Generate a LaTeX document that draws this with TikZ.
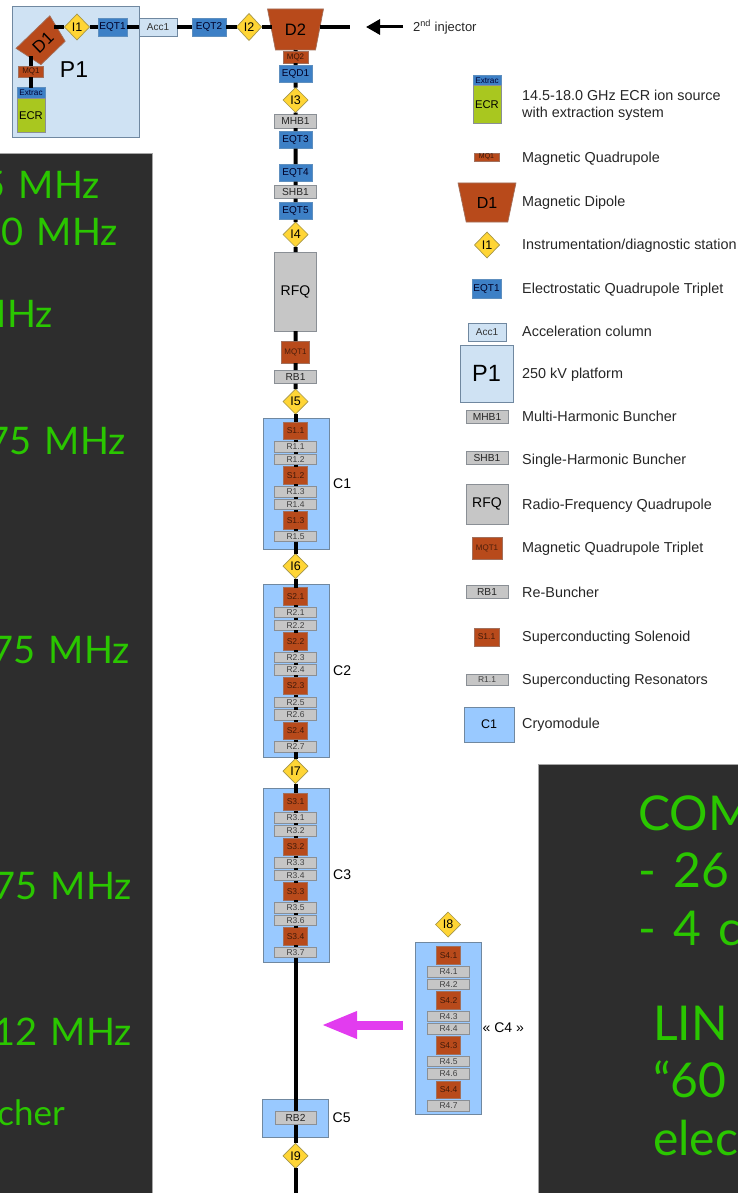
\documentclass[tikz,border=0pt]{standalone}
\usepackage{fontspec}
\setmainfont{Liberation Sans}
\newfontfamily\handfont[WordSpace=1.4]{Lato}
\usetikzlibrary{arrows.meta,positioning,shapes.geometric}
\usepackage{xcolor}
\definecolor{rust}{HTML}{B84A1B}
\definecolor{rustedge}{HTML}{A2705C}
\definecolor{eqblue}{HTML}{3D80C6}
\definecolor{eqedge}{HTML}{5E8FBF}
\definecolor{cavgrey}{HTML}{C6C6C6}
\definecolor{cavedge}{HTML}{8A8F95}
\definecolor{gold}{HTML}{FFD535}
\definecolor{goldedge}{HTML}{A5964A}
\definecolor{cryoblue}{HTML}{99C9FF}
\definecolor{cryoedge}{HTML}{7088A0}
\definecolor{paleblue}{HTML}{CFE2F3}
\definecolor{ecrgreen}{HTML}{A9C71F}
\definecolor{panelgrey}{HTML}{2D2D2D}
\definecolor{handgreen}{HTML}{2AC600}
\definecolor{arrowpink}{HTML}{E23CEF}
\newcommand{\fsize}[1]{\fontsize{#1}{#1}\selectfont}

\begin{document}
\begin{tikzpicture}[
  x=1pt,y=-1pt,
  node distance=2.1pt,
  element/.style={
    draw,
    line width=0.7pt,
    inner sep=0pt,
    outer sep=0pt,
    align=center
  },
  quadmag/.style={element,fill=rust,draw=rustedge,text=black!70!rust,minimum width=25pt,minimum height=11pt,font=\fsize{8}},
  dipole/.style={
    element,
    trapezium,
    trapezium stretches=true,
    trapezium angle=70,
    shape border rotate=180,
    fill=rust,
    draw=rustedge
  },
  station/.style={element,diamond,fill=gold,draw=goldedge,minimum width=25pt,minimum height=25pt,font=\fsize{12.5}},
  eqt/.style={element,fill=eqblue,draw=eqedge,text=black!85!blue,minimum width=33pt,minimum height=17.5pt,font=\fsize{10}},
  column/.style={element,fill=paleblue,draw=cryoedge,text=black!80,minimum width=38pt,minimum height=18pt,font=\fsize{10}},
  platform/.style={element,fill=paleblue,draw=cryoedge},
  buncher/.style={element,fill=cavgrey,draw=cavedge,text=black!85,minimum width=42pt,minimum height=13.5pt,font=\fsize{10.2}},
  rfq/.style={element,fill=cavgrey,draw=cavedge,minimum width=42pt,font=\fsize{14}},
  triplet/.style={element,fill=rust,draw=rustedge,text=black!60!rust,minimum width=28pt,minimum height=22pt,font=\fsize{8}},
  solenoid/.style={element,fill=rust,draw=rustedge,text=black!65!rust,minimum width=24pt,minimum height=17.5pt,font=\fsize{8.5}},
  cavity/.style={element,fill=cavgrey,draw=cavedge,text=black!75,minimum width=42pt,minimum height=10.5pt,font=\fsize{8.5}},
  cryomodule/.style={element,fill=cryoblue,draw=cryoedge,minimum width=66pt},
  extractor/.style={element,fill=eqblue,draw=eqedge,text=black!80!blue,minimum width=28pt,minimum height=10.5pt,font=\fsize{8.2}},
  source/.style={element,fill=ecrgreen,draw=cavedge,minimum width=28pt,font=\fsize{11.2}},
  modname/.style={inner sep=0pt,font=\fsize{14}},
  legendtext/.style={anchor=west,inner sep=0pt,align=left,font=\fontsize{14.4}{17}\selectfont,text=black!85},
  darkpanel/.style={draw=black!35,line width=0.8pt,fill=panelgrey,anchor=north west,inner sep=0pt},
  handnote/.style={inner sep=0pt,text=handgreen,font=\handfont\fsize{38}},
  bignote/.style={handnote,font=\handfont\fsize{48}},
  beam/.style={line width=4pt,black},
  feed/.style={line width=3pt,black,-{Triangle[length=14pt,width=15pt]}},
  transfer/.style={line width=9pt,arrowpink,-{Triangle[length=36pt,width=25pt]}}
]
  \path[use as bounding box,clip] (0,0) rectangle (738,1193);

  % dark panels
  \node[darkpanel,minimum width=153pt,minimum height=1041pt] (leftpanel) at (-1,153) {};
  \node[darkpanel,minimum width=201pt,minimum height=430pt] (rightpanel) at (538,764) {};

  \node[handnote,anchor=base east] (noteA) at (100,198) {5 MHz};
  \node[handnote,anchor=base east] (noteB) at (118,245) {50 MHz};
  \node[handnote,anchor=base east] (noteC) at (53,327) {MHz};
  \node[handnote,anchor=base east] (noteD) at (126,454) {75 MHz};
  \node[handnote,anchor=base east] (noteE) at (130,663) {75 MHz};
  \node[handnote,anchor=base east] (noteF) at (132,899) {75 MHz};
  \node[handnote,anchor=base east] (noteG) at (132,1045) {12 MHz};
  \node[handnote,anchor=base east,font=\handfont\fsize{35}] (noteH) at (65,1125) {cher};

  \node[bignote,anchor=base west] (noteI) at (638,830) {COM};
  \node[bignote,anchor=base west] (noteJ) at (638,887) {- 26};
  \node[bignote,anchor=base west] (noteK) at (638,945) {- 4 c};
  \node[bignote,anchor=base west] (noteL) at (653,1040) {LIN};
  \node[bignote,anchor=base west] (noteM) at (653,1097) {“60};
  \node[bignote,anchor=base west] (noteN) at (653,1155) {elec};

  % platform and injection line
  \node[platform,minimum width=127pt,minimum height=131pt] (P1box) at (75.5,71.5) {};
  \node[inner sep=0pt,font=\fsize{23}] (P1) at (74,70) {P1};
  \node[extractor] (extrac) at (31,93) {Extrac};
  \node[source,minimum height=34pt,below=0pt of extrac] (ECR) {ECR};
  \node[quadmag] (MQ1) at (31,71.5) {MQ1};
  \node[dipole,rotate=44,minimum width=47pt,minimum height=29pt,font=\fsize{17}] (D1) at (43,42.5) {D1};
  \coordinate (D1in) at (31,56);
  \coordinate (D1out) at (54,27);
  \node[station,minimum height=26pt] (I1) at (77,27) {I1};
  \node[eqt,minimum width=29pt,minimum height=18pt] (EQT1) at (112.5,27) {EQT1};
  \node[column] (Acc1) at (158,27) {Acc1};
  \node[eqt,minimum width=34pt,minimum height=18pt] (EQT2) at (209,27) {EQT2};
  \node[station,minimum height=27pt] (I2) at (249,27) {I2};
  \node[dipole,minimum width=56pt,minimum height=41pt,font=\fsize{16.5}] (D2) at (295.5,29.5) {D2};
  \coordinate (injend) at (350,27);
  \coordinate (injstart) at (403,27);
  \coordinate (injtip) at (366,27);
  \node[anchor=west,inner sep=0pt,font=\fsize{13},text=black!85] (injector) at (413,27) {2\textsuperscript{nd} injector};

  % main line down to the RFQ
  \node[quadmag,minimum height=12pt,below=1pt of D2] (MQ2) {MQ2};
  \node[eqt,below=2pt of MQ2] (EQD1) {EQD1};
  \node[station,below=5pt of EQD1] (I3) {I3};
  \node[buncher,below=2pt of I3] (MHB1) {MHB1};
  \node[eqt,below=3pt of MHB1] (EQT3) {EQT3};
  \node[eqt,below=15.5pt of EQT3] (EQT4) {EQT4};
  \node[buncher,below=3.5pt of EQT4] (SHB1) {SHB1};
  \node[eqt,below=3.5pt of SHB1] (EQT5) {EQT5};
  \node[station,below=2.5pt of EQT5] (I4) {I4};
  \node[rfq,minimum height=79pt,below=5pt of I4] (RFQ) {RFQ};
  \node[triplet,below=10pt of RFQ] (MQT1) {MQT1};
  \node[buncher,below=7pt of MQT1] (RB1) {RB1};
  \node[station,below=5.5pt of RB1] (I5) {I5};

  % first cryomodule
  \node[cryomodule,minimum height=131pt] (C1box) at (296,483.5) {};
  \node[modname,right=4pt of C1box] (C1) {C1};
  \node[solenoid,below=8pt of I5] (S11) {S1.1};
  \node[cavity,below=of S11] (R11) {R1.1};
  \node[cavity,below=of R11] (R12) {R1.2};
  \node[solenoid,below=of R12] (S12) {S1.2};
  \node[cavity,below=of S12] (R13) {R1.3};
  \node[cavity,below=of R13] (R14) {R1.4};
  \node[solenoid,below=of R14] (S13) {S1.3};
  \node[cavity,below=of S13] (R15) {R1.5};
  \node[station,below=12pt of R15] (I6) {I6};

  % second cryomodule
  \node[cryomodule,minimum height=173pt] (C2box) at (296,670.5) {};
  \node[modname,right=4pt of C2box] (C2) {C2};
  \node[solenoid,below=9pt of I6] (S21) {S2.1};
  \node[cavity,below=of S21] (R21) {R2.1};
  \node[cavity,below=of R21] (R22) {R2.2};
  \node[solenoid,below=of R22] (S22) {S2.2};
  \node[cavity,below=of S22] (R23) {R2.3};
  \node[cavity,below=of R23] (R24) {R2.4};
  \node[solenoid,below=of R24] (S23) {S2.3};
  \node[cavity,below=of S23] (R25) {R2.5};
  \node[cavity,below=of R25] (R26) {R2.6};
  \node[solenoid,below=of R26] (S24) {S2.4};
  \node[cavity,below=of S24] (R27) {R2.7};
  \node[station,below=6.5pt of R27] (I7) {I7};

  % third cryomodule
  \node[cryomodule,minimum height=174pt] (C3box) at (296,875) {};
  \node[modname,right=4pt of C3box] (C3) {C3};
  \node[solenoid,below=9.5pt of I7] (S31) {S3.1};
  \node[cavity,below=of S31] (R31) {R3.1};
  \node[cavity,below=of R31] (R32) {R3.2};
  \node[solenoid,below=of R32] (S32) {S3.2};
  \node[cavity,below=of S32] (R33) {R3.3};
  \node[cavity,below=of R33] (R34) {R3.4};
  \node[solenoid,below=of R34] (S33) {S3.3};
  \node[cavity,below=of S33] (R35) {R3.5};
  \node[cavity,below=of R35] (R36) {R3.6};
  \node[solenoid,below=of R36] (S34) {S3.4};
  \node[cavity,below=of S34] (R37) {R3.7};

  % fourth cryomodule, off the line
  \node[station] (I8) at (448,924.5) {I8};
  \node[cryomodule,minimum height=172pt] (C4box) at (448,1028) {};
  \node[modname,right=1.5pt of C4box] (C4) {« C4 »};
  \node[solenoid] (S41) at (448.5,955.5) {S4.1};
  \node[cavity,below=of S41] (R41) {R4.1};
  \node[cavity,below=of R41] (R42) {R4.2};
  \node[solenoid,below=of R42] (S42) {S4.2};
  \node[cavity,below=of S42] (R43) {R4.3};
  \node[cavity,below=of R43] (R44) {R4.4};
  \node[solenoid,below=of R44] (S43) {S4.3};
  \node[cavity,below=of S43] (R45) {R4.5};
  \node[cavity,below=of R45] (R46) {R4.6};
  \node[solenoid,below=of R46] (S44) {S4.4};
  \node[cavity,below=of S44] (R47) {R4.7};
  \coordinate (C4out) at (403,1025);
  \coordinate (C4in) at (321,1025);

  % re-buncher module
  \node[cryomodule,minimum height=38pt] (C5box) at (295.5,1118) {};
  \node[modname,right=4pt of C5box] (C5) {C5};
  \node[buncher,minimum width=41pt] (RB2) at (295.5,1118) {RB2};
  \node[station,below=18.5pt of RB2] (I9) {I9};
  \coordinate (lineend) at (295.5,1194);

  % legend
  \node[extractor] (legextrac) at (487,80.5) {Extrac};
  \node[source,minimum height=38pt,below=0pt of legextrac] (legECR) {ECR};
  \node[legendtext] (txtECR) at (522,105.5) {14.5-18.0 GHz ECR ion source\\with extraction system};
  \node[quadmag,minimum height=8pt,font=\fsize{7}] (legMQ) at (486.5,157) {MQ1};
  \node[legendtext] (txtMQ) at (522,159) {Magnetic Quadrupole};
  \node[dipole,minimum width=58pt,minimum height=39pt,font=\fsize{16}] (legD) at (487,202.5) {D1};
  \node[legendtext] (txtD) at (522,203) {Magnetic Dipole};
  \node[station,minimum height=26pt] (legI) at (487,245) {I1};
  \node[legendtext] (txtI) at (522,246) {Instrumentation/diagnostic station};
  \node[eqt,minimum width=29pt,minimum height=19pt] (legEQT) at (486.5,288.5) {EQT1};
  \node[legendtext] (txtEQT) at (522,290) {Electrostatic Quadrupole Triplet};
  \node[column] (legAcc) at (487,332) {Acc1};
  \node[legendtext] (txtAcc) at (522,331.5) {Acceleration column};
  \node[platform,minimum width=53pt,minimum height=57pt,font=\fsize{23.5}] (legP) at (486.5,373.5) {P1};
  \node[legendtext] (txtP) at (522,375) {250 kV platform};
  \node[buncher] (legMHB) at (487,417) {MHB1};
  \node[legendtext] (txtMHB) at (522,416) {Multi-Harmonic Buncher};
  \node[buncher] (legSHB) at (487,458) {SHB1};
  \node[legendtext] (txtSHB) at (522,461) {Single-Harmonic Buncher};
  \node[rfq,minimum height=40pt] (legRFQ) at (487,504) {RFQ};
  \node[legendtext] (txtRFQ) at (522,506) {Radio-Frequency Quadrupole};
  \node[triplet,minimum width=30pt] (legMQT) at (487,548) {MQT1};
  \node[legendtext] (txtMQT) at (522,549) {Magnetic Quadrupole Triplet};
  \node[buncher] (legRB) at (487,592) {RB1};
  \node[legendtext] (txtRB) at (522,592) {Re-Buncher};
  \node[solenoid,minimum width=25pt,minimum height=18pt] (legS) at (486.5,637) {S1.1};
  \node[legendtext] (txtS) at (522,638) {Superconducting Solenoid};
  \node[cavity] (legR) at (487,680) {R1.1};
  \node[legendtext] (txtR) at (522,681) {Superconducting Resonators};
  \node[cryomodule,minimum width=50pt,minimum height=35pt,font=\fsize{12.5}] (legC) at (489,724.5) {C1};
  \node[legendtext] (txtC) at (522,725) {Cryomodule};

  % beam line
  \draw[beam] (extrac) -- (MQ1);
  \draw[beam] (MQ1) -- (D1in);
  \draw[beam] (D1out) -- (I1) -- (EQT1) -- (Acc1) -- (EQT2) -- (I2);
  \draw[beam] (I2) -- (I2 -| D2.west);
  \draw[beam] (injend -| D2.east) -- (injend);
  \draw[beam] (D2) -- (MQ2) -- (EQD1) -- (I3) -- (MHB1) -- (EQT3) -- (EQT4) -- (SHB1) -- (EQT5) -- (I4) -- (RFQ) -- (MQT1) -- (RB1) -- (I5);
  \draw[beam] (I5) -- (S11) -- (R11) -- (R12) -- (S12) -- (R13) -- (R14) -- (S13) -- (R15) -- (I6);
  \draw[beam] (I6) -- (S21) -- (R21) -- (R22) -- (S22) -- (R23) -- (R24) -- (S23) -- (R25) -- (R26) -- (S24) -- (R27) -- (I7);
  \draw[beam] (I7) -- (S31) -- (R31) -- (R32) -- (S32) -- (R33) -- (R34) -- (S33) -- (R35) -- (R36) -- (S34) -- (R37);
  \draw[beam] (R37) -- (RB2) -- (I9) -- (lineend);

  \draw[feed] (injstart) -- (injtip);
  \draw[transfer] (C4out) -- (C4in);
\end{tikzpicture}
\end{document}
